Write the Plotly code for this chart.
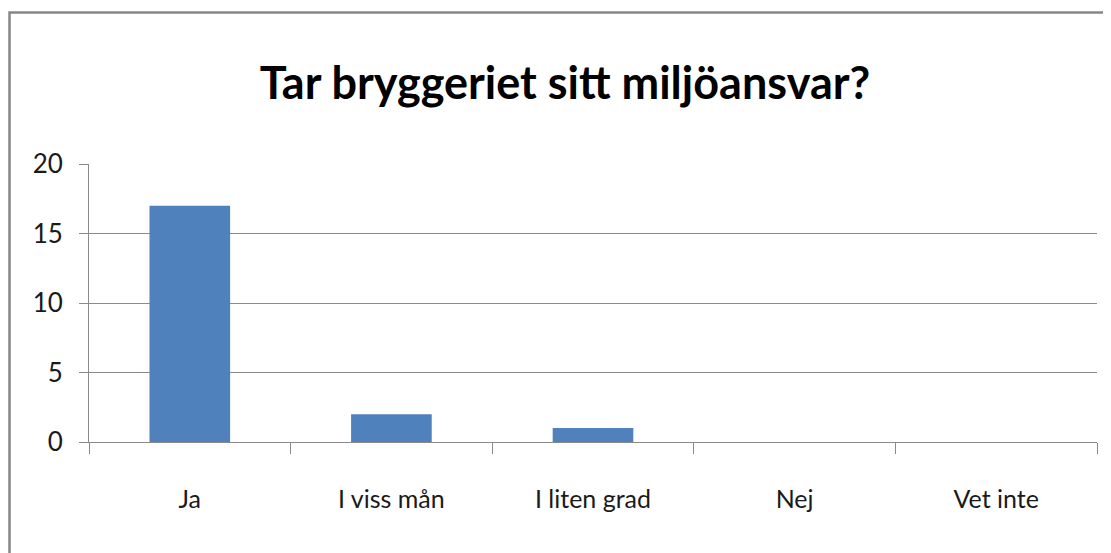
import plotly.graph_objects as go

categories = ["Ja", "I viss mån", "I liten grad", "Nej", "Vet inte"]
values = [17, 2, 1, 0, 0]
y_ticks = [0, 5, 10, 15, 20]
title_text = "Tar bryggeriet sitt miljöansvar?"

FONT = "Lato, Liberation Sans, sans-serif"
GRAY = "#8a8a8a"

fig = go.Figure(go.Bar(x=categories, y=values, marker=dict(color="#4F81BD", line=dict(width=0)), width=0.4))

OFF = 8  # page body margin
W, H = 1111 - OFF, 553 - OFF
L, T = 89 - OFF, 164 - OFF
R = W - (1097 - OFF)
B = H - (442 - OFF)
fig.update_layout(
    width=W, height=H,
    margin=dict(l=L, r=R, t=T, b=B, pad=0),
    paper_bgcolor="white", plot_bgcolor="white",
    showlegend=False,
    font=dict(family=FONT, color="#1a1a1a", size=26),
    title=dict(text="<b>" + title_text + "</b>", x=(565 - OFF) / W, xanchor="center",
               y=1 - (83 - OFF) / H, yanchor="middle", yref="container",
               font=dict(family=FONT, size=45, color="#000000")),
    xaxis=dict(type="category", tickson="boundaries", ticks="outside", ticklen=11,
               tickcolor=GRAY, tickwidth=1, showline=True, linecolor=GRAY, linewidth=1,
               showgrid=False, ticklabelstandoff=35, tickfont=dict(size=25)),
    yaxis=dict(range=[0, 20], tickvals=y_ticks, ticks="outside", ticklen=9, tickcolor=GRAY,
               showline=True, linecolor=GRAY, linewidth=1, showgrid=True, gridcolor=GRAY,
               gridwidth=1, zeroline=False, ticklabelstandoff=11, tickfont=dict(size=26)),
)

# outer chart border (partially cut off at right/bottom)
pw, ph = W - L - R, H - T - B
fig.add_shape(type="rect", xref="paper", yref="paper",
              x0=(9.5 - 89) / pw, x1=(1111 + 20 - 89) / pw,
              y0=-(553 + 20 - 442) / ph, y1=(442 - 12.5) / ph,
              line=dict(color="#878787", width=2.5), fillcolor="rgba(0,0,0,0)", layer="below")

fig.write_html("out.html")
